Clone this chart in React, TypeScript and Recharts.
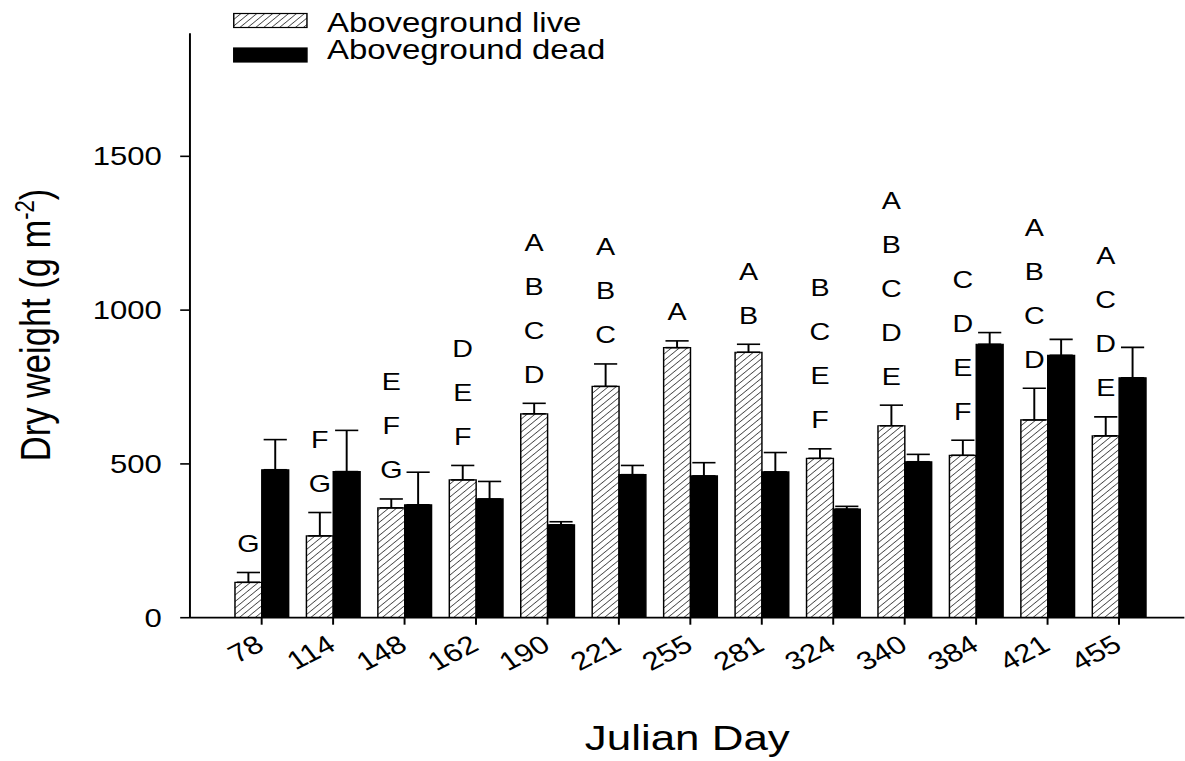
import React from "react";
import { BarChart, Bar, XAxis, YAxis, ErrorBar, LabelList, Legend } from "recharts";

// Julian day categories and aboveground biomass (g m-2), mean and SE
const days = ["78", "114", "148", "162", "190", "221", "255", "281", "324", "340", "384", "421", "455"];
const liveWeight = [115, 266, 357, 448, 663, 752, 878, 863, 518, 624, 528, 643, 591];
const liveSE = [32, 76, 29, 47, 34, 73, 22, 26, 31, 67, 49, 103, 62];
const deadWeight = [481, 475, 367, 386, 302, 465, 461, 474, 353, 507, 889, 853, 780];
const deadSE = [98, 134, 106, 57, 10, 30, 43, 63, 9, 24, 38, 52, 99];
// significance groups shown above the live bars
const letters = ["G", "FG", "EFG", "DEF", "ABCD", "ABC", "A", "AB", "BCEF", "ABCDE", "CDEF", "ABCD", "ACDE"];
const yTicks = [0, 500, 1000, 1500];
const seriesOrder = ["live", "dead"];

const data = days.map((day, i) => ({
  day,
  live: liveWeight[i],
  dead: deadWeight[i],
  liveErr: [0, liveSE[i]],
  deadErr: [0, deadSE[i]],
}));

// the original figure is stretched horizontally, so the chart is drawn narrow and scaled
const STRETCH = 1.22;

const HatchPattern = ({ id }: { id: string }) => (
  <pattern id={id} width={4.6} height={4.6} patternUnits="userSpaceOnUse" patternTransform="rotate(45)">
    <rect width={4.6} height={4.6} fill="#fff" />
    <line x1={0} y1={0} x2={0} y2={4.6} stroke="#000" strokeWidth={1.1} />
  </pattern>
);

const renderLetters = (props: any) => {
  const x = Number(props.x);
  const y = Number(props.y);
  const width = Number(props.width);
  const height = Number(props.height);
  const i = days.indexOf(String(props.value));
  if (i < 0) return null;
  const pxPerUnit = height / liveWeight[i];
  const errTop = y - liveSE[i] * pxPerUnit;
  const chars = letters[i].split("");
  const cx = x + width / 2;
  return (
    <g>
      {chars.map((c, k) => (
        <text
          key={k}
          x={cx}
          y={errTop - 29 - (chars.length - 1 - k) * 44}
          dy="0.36em"
          textAnchor="middle"
          fontSize={23.5}
          fill="#000">
          {c}
        </text>
      ))}
    </g>
  );
};

const renderYLabel = () => (
  <text x={41} y={325} transform="rotate(-90, 41, 325)" textAnchor="middle" fontSize={34.5} fill="#000">
    Dry weight (g m
    <tspan fontSize={22} dy={-13}>
      -2
    </tspan>
    <tspan dy={13}>)</tspan>
  </text>
);

const renderLegend = (props: any) => {
  const payload = [...(props.payload || [])].sort(
    (a: any, b: any) => seriesOrder.indexOf(a.dataKey) - seriesOrder.indexOf(b.dataKey)
  );
  return (
    <svg width={330} height={70}>
      <defs>
        <HatchPattern id="hatchLegend" />
      </defs>
      {payload.map((entry: any, k: number) => {
        const isLive = entry.dataKey === "live";
        return (
          <g key={k}>
            <rect
              x={0.6}
              y={13.5 + k * 34.5}
              width={60}
              height={14}
              fill={isLive ? "url(#hatchLegend)" : "#000"}
              stroke="#000"
              strokeWidth={1.2}
            />
            <text x={77} y={31.7 + k * 27.6} fontSize={27} fill="#000">
              {entry.value}
            </text>
          </g>
        );
      })}
    </svg>
  );
};

const App = () => {
  return (
    <div
      style={{
        position: "absolute",
        left: 0,
        top: 0,
        width: 971,
        height: 761,
        transform: `scaleX(${STRETCH})`,
        transformOrigin: "0 0",
        fontFamily: "'Liberation Sans', Arial, sans-serif",
        background: "#fff",
      }}>
      <BarChart
        width={971}
        height={761}
        data={data}
        barCategoryGap={7.4}
        barGap={0}
        margin={{ top: 33.3, right: 0, left: 35.7, bottom: 73.3 }}>
        <defs>
          <HatchPattern id="hatchLive" />
        </defs>
        <XAxis
          dataKey="day"
          interval={0}
          padding={{ left: 29.5, right: 24.5 }}
          height={70}
          tickSize={7}
          tickMargin={9}
          angle={-32}
          textAnchor="end"
          tick={{ fontSize: 25.5, fill: "#000", angle: -32, textAnchor: "end", dx: -6 }}
          axisLine={{ stroke: "#000", strokeWidth: 1.8 }}
          tickLine={{ stroke: "#000", strokeWidth: 1.6 }}
          label={{ value: "Julian Day", position: "bottom", offset: 37, fontSize: 36, fill: "#000" }}
        />
        <YAxis
          domain={[0, 1900]}
          ticks={yTicks}
          allowDataOverflow
          width={120}
          tickSize={8}
          tickMargin={15}
          tick={{ fontSize: 25.5, fill: "#000" }}
          axisLine={{ stroke: "#000", strokeWidth: 1.6 }}
          tickLine={{ stroke: "#000", strokeWidth: 1.6 }}
          label={{ content: renderYLabel }}
        />
        <Legend
          layout="horizontal"
          verticalAlign="middle"
          align="center"
          wrapperStyle={{ top: 0, left: 191, width: 330, height: 70 }}
          content={renderLegend}
        />
        <Bar
          dataKey="live"
          name="Aboveground live"
          fill="url(#hatchLive)"
          stroke="#000"
          strokeWidth={1.2}
          isAnimationActive={false}>
          <ErrorBar dataKey="liveErr" direction="y" width={9.5} stroke="#000" strokeWidth={1.6} isAnimationActive={false} />
          <LabelList dataKey="day" content={renderLetters} />
        </Bar>
        <Bar
          dataKey="dead"
          name="Aboveground dead"
          fill="#000"
          stroke="#000"
          strokeWidth={1.2}
          isAnimationActive={false}>
          <ErrorBar dataKey="deadErr" direction="y" width={9.5} stroke="#000" strokeWidth={1.6} isAnimationActive={false} />
        </Bar>
      </BarChart>
    </div>
  );
};

export default App;
